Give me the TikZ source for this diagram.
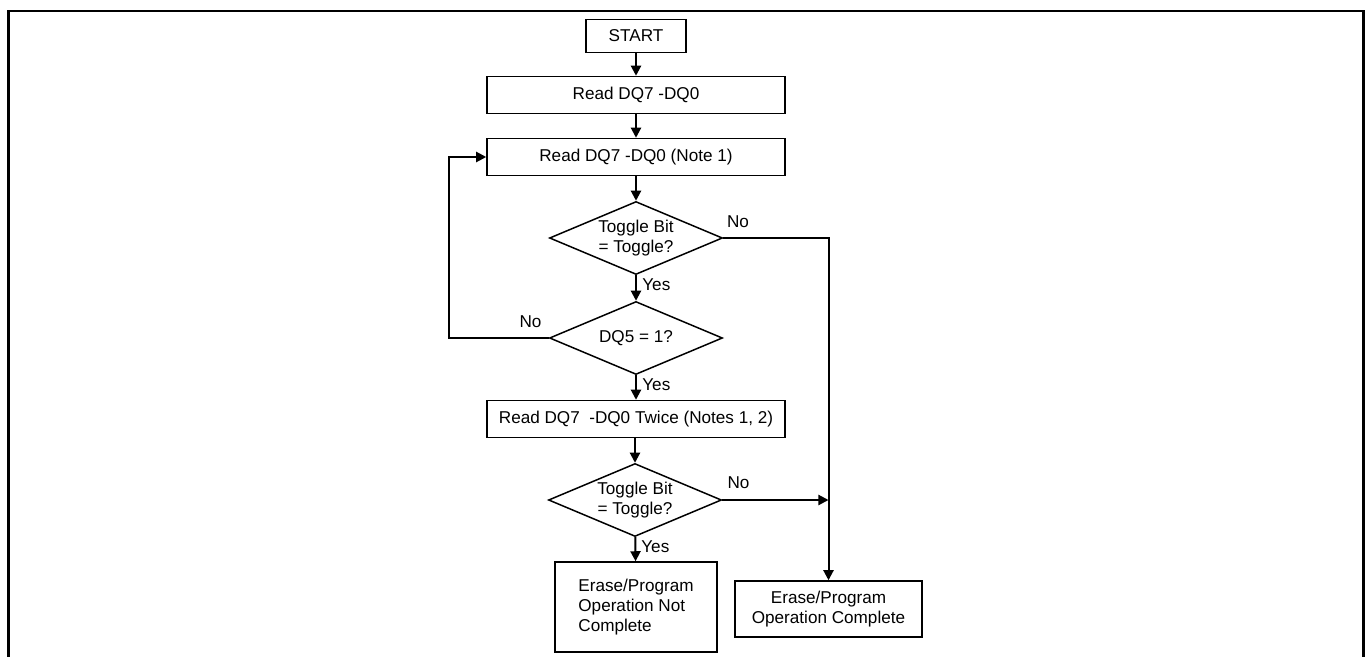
\documentclass[tikz,border=0pt]{standalone}
\usepackage{fontspec}
\setmainfont{Liberation Sans}
\usetikzlibrary{arrows.meta,shapes.geometric}
\begin{document}
\begin{tikzpicture}[>={Triangle[length=5.7pt,width=5.7pt]},line join=miter,font=\fontsize{9.75}{11.4}\selectfont,
	box/.style={draw,line width=0.85pt,inner sep=0pt,align=center},
	decision/.style={draw,diamond,line width=0.85pt,inner sep=0pt,aspect=2.37,minimum width=3.46cm,minimum height=1.46cm,align=center},
	flow/.style={->,line width=1.15pt},
	lbl/.style={inner sep=0pt}]
	\def\xm{12.72} % main column
	\def\w{5.96} % read boxes
	\def\hb{0.74} % height of one-line boxes
	\useasboundingbox (0,0) rectangle (27.34,-13.14);
	% frame
	\draw[line width=1.7pt] (0.17,-13.14)--(0.17,-0.22)--(27.27,-0.22)--(27.27,-13.14);
	\path
	(8.98,0) coordinate (L);
	% boxes
	\node[box,minimum width=2cm,minimum height=0.66cm] (start) at (\xm,-0.72) {START};
	\node[box,minimum width=\w cm,minimum height=\hb cm] (read1) at (\xm,-1.9) {Read DQ7 -DQ0};
	\node[box,minimum width=\w cm,minimum height=\hb cm] (read2) at (\xm,-3.14) {Read DQ7 -DQ0 (Note 1)};
	\node[decision] (dia1) at (\xm,-4.76) {Toggle Bit\\= Toggle?};
	\node[decision] (dia2) at (\xm,-6.76) {DQ5 = 1?};
	\node[box,minimum width=\w cm,minimum height=\hb cm] (read3) at (\xm,-8.38) {Read DQ7\ \ -DQ0 Twice (Notes 1, 2)};
	\node[decision] (dia3) at (12.7,-10.0) {Toggle Bit\\= Toggle?};
	\node[box,align=left,minimum width=3.24cm,minimum height=1.8cm] (notdone) at (\xm,-12.14) {Erase/Program\\Operation Not\\Complete};
	\node[box,minimum width=3.74cm,minimum height=1.12cm] (done) at (16.57,-12.18) {Erase/Program\\Operation Complete};
	% connectors
	\draw[flow] (start)--(read1);
	\draw[flow] (read1)--(read2);
	\draw[flow] (read2)--(dia1);
	\draw[flow] (dia1)--(dia2);
	\draw[flow] (dia2)--(read3);
	\draw[flow] (read3.south -| dia3.north)--(dia3.north);
	\draw[flow] (dia3)--(notdone);
	\draw[flow] (dia2.west)--(dia2.west -| L) |- (read2.west);
	\draw[flow] (dia1.east) -| (done.north);
	\draw[flow] (dia3.east)--(dia3.east -| done.north);
	% labels
	\node[lbl,anchor=north west] (yes1) at ([shift={(0.12,-0.06)}]dia1.south) {Yes};
	\node[lbl,anchor=north west] (yes2) at ([shift={(0.12,-0.06)}]dia2.south) {Yes};
	\node[lbl,anchor=north west] (yes3) at ([shift={(0.12,-0.06)}]dia3.south) {Yes};
	\node[lbl,anchor=south west] (no1) at ([shift={(0.07,0.2)}]dia1.east) {No};
	\node[lbl,anchor=south east] (no2) at ([shift={(-0.14,0.2)}]dia2.west) {No};
	\node[lbl,anchor=south west] (no3) at ([shift={(0.1,0.22)}]dia3.east) {No};
\end{tikzpicture}
\end{document}
